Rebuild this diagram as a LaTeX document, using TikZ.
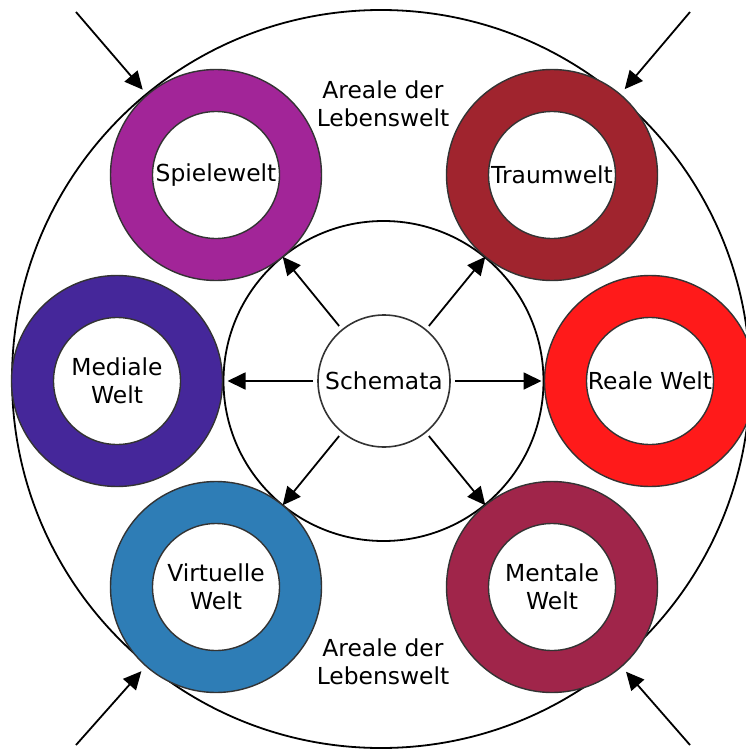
\documentclass[tikz,border=0pt]{standalone}
\usepackage{fontspec}
\setmainfont{DejaVu Sans}
\usetikzlibrary{arrows.meta}

\definecolor{spielC}{HTML}{A22598}
\definecolor{traumC}{HTML}{A0242E}
\definecolor{medialC}{HTML}{45279A}
\definecolor{realC}{HTML}{FF1A1A}
\definecolor{virtC}{HTML}{2E7DB6}
\definecolor{mentalC}{HTML}{A0254A}
\definecolor{rimC}{HTML}{333333}

\tikzset{
  ring/.style={circle, minimum size=211pt, inner sep=0pt, outer sep=0pt,
    draw=rimC, line width=1.4pt, fill=#1},
  hole/.style={circle, minimum size=127pt, inner sep=0pt, outer sep=0pt,
    draw=rimC, line width=1.4pt, fill=white, align=center,
    font=\fontsize{23.4pt}{28.5pt}\selectfont},
  bigring/.style={circle, inner sep=0pt, outer sep=0pt, draw=black, line width=1.8pt},
  label/.style={align=center, font=\fontsize{23.4pt}{28pt}\selectfont},
  arr/.style={line width=1.8pt, -{Triangle[length=18pt,width=17pt]}},
}

\begin{document}
\begin{tikzpicture}[x=1pt,y=-1pt]
\useasboundingbox (0,0) rectangle (746,749);
\fill[white] (0,0) rectangle (746,749);

% outer area and central area
\node[bigring, minimum size=738pt] (areal) at (381,379) {};
\node[bigring, minimum size=320pt] (kern) at (383.5,381) {};

% coloured worlds
\node[ring=spielC]  (spiel) at (216,175) {};
\node[ring=traumC]  (traum) at (552,175) {};
\node[ring=medialC] (medial) at (117,381) {};
\node[ring=realC]   (real) at (650,381) {};
\node[ring=virtC]   (virt) at (216,587) {};
\node[ring=mentalC] (mental) at (552,587) {};

\node[hole] (spielT)  at (spiel)  {Spielewelt};
\node[hole] (traumT)  at (traum)  {Traumwelt};
\node[hole] (medialT) at (medial) {Mediale\\Welt};
\node[hole] (realT)   at (real)   {Reale Welt};
\node[hole] (virtT)   at (virt)   {Virtuelle\\Welt};
\node[hole] (mentalT) at (mental) {Mentale\\Welt};

% centre
\node[circle, minimum size=132pt, inner sep=0pt, outer sep=0pt, draw=rimC,
  line width=1.6pt, fill=white, font=\fontsize{23.4pt}{28pt}\selectfont]
  (schema) at (384,381) {Schemata};

% labels
\node[label] (areaOben) at (383,104) {Areale der\\Lebenswelt};
\node[label] (areaUnten) at (383,662) {Areale der\\Lebenswelt};

% arrows out of the centre
\draw[arr, shorten <=5pt] (schema) -- (spiel);
\draw[arr, shorten <=5pt] (schema) -- (traum);
\draw[arr, shorten <=5pt, shorten >=5pt] (schema) -- (medial);
\draw[arr, shorten <=5pt, shorten >=3pt] (schema) -- (real);
\draw[arr, shorten <=5pt] (schema) -- (virt);
\draw[arr, shorten <=5pt] (schema) -- (mental);

% arrows from the corners
\coordinate (eckeLO) at (76,12);
\coordinate (eckeRO) at (690,12);
\coordinate (eckeLU) at (76,745);
\coordinate (eckeRU) at (690,745);
\draw[arr, shorten >=7pt] (eckeLO) -- (spiel);
\draw[arr, shorten >=7pt] (eckeRO) -- (traum);
\draw[arr, shorten >=7pt] (eckeLU) -- (virt);
\draw[arr, shorten >=7pt] (eckeRU) -- (mental);
\end{tikzpicture}
\end{document}
